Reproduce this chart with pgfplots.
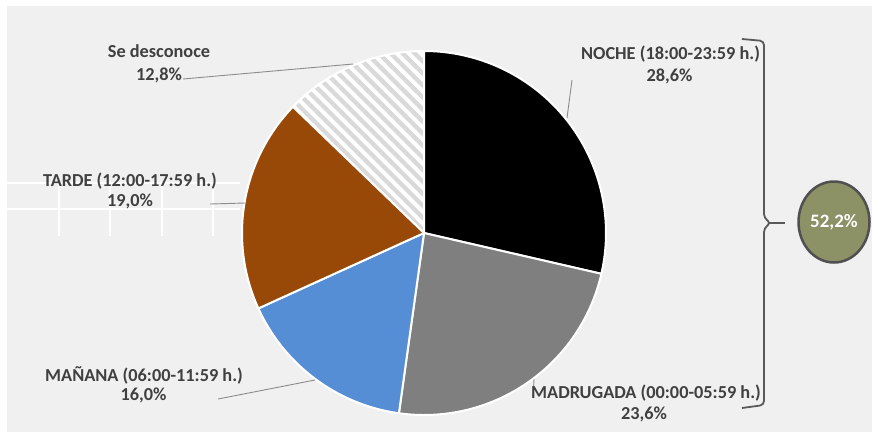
\documentclass[border=0pt]{standalone}
\usepackage{pgfplots}
\pgfplotsset{compat=1.18}
\usepackage{fontspec}
\setmainfont{Carlito}
\usetikzlibrary{patterns.meta}
\definecolor{bg}{HTML}{F0F0F0}
\definecolor{txt}{HTML}{404040}
\definecolor{cNoche}{HTML}{000000}
\definecolor{cMadr}{HTML}{7F7F7F}
\definecolor{cMan}{HTML}{558ED5}
\definecolor{cTarde}{HTML}{984807}
\definecolor{hatch}{HTML}{D9D9D9}
\definecolor{lead}{HTML}{8C8C8C}
\definecolor{brace}{HTML}{595959}
\definecolor{olive}{HTML}{8C9166}
\def\cx{424}\def\cy{233}\def\R{182}
% pie values (percent) and cumulative start (percent)
% NOCHE 28.6 | MADRUGADA 23.6 | MANANA 16.0 | TARDE 19.0 | Se desconoce 12.8
\begin{document}
\begin{tikzpicture}
\begin{axis}[scale only axis, width=872pt, height=432pt,
  xmin=0, xmax=872, ymin=0, ymax=432, y dir=reverse,
  hide axis, clip=false]
% background
\fill[white] (axis cs:0,0) rectangle (axis cs:872,432);
\fill[bg] (axis cs:7,6) rectangle (axis cs:872,432);
% stray grid artefacts on the left
\draw[white, line width=1.5pt] (axis cs:7,183) -- (axis cs:240,183);
\draw[white, line width=1.5pt] (axis cs:7,209) -- (axis cs:240,209);
\draw[white, line width=1.5pt] (axis cs:59,183) -- (axis cs:59,236);
\draw[white, line width=1.5pt] (axis cs:110,183) -- (axis cs:110,236);
\draw[white, line width=1.5pt] (axis cs:162,183) -- (axis cs:162,236);
\draw[white, line width=1.5pt] (axis cs:213,183) -- (axis cs:213,236);
% pie sectors
\addplot[fill=white, draw=none, domain={90-3.6*87.2}:{90-3.6*(87.2+12.8)}, samples=60,
  postaction={pattern={Lines[angle=-45,distance=8.5pt,line width=4.3pt]}, pattern color=hatch}]
  ({\cx+\R*cos(x)},{\cy-\R*sin(x)}) -- (axis cs:\cx,\cy) -- cycle;
\addplot[fill=none, draw=white, line width=2pt, line join=round, domain={90-3.6*87.2}:{90-3.6*(87.2+12.8)}, samples=60]
  ({\cx+\R*cos(x)},{\cy-\R*sin(x)}) -- (axis cs:\cx,\cy) -- cycle;
\addplot[fill=cNoche, draw=white, line width=2pt, line join=round, domain={90-3.6*0}:{90-3.6*28.6}, samples=100]
  ({\cx+\R*cos(x)},{\cy-\R*sin(x)}) -- (axis cs:\cx,\cy) -- cycle;
\addplot[fill=cMadr, draw=white, line width=2pt, line join=round, domain={90-3.6*28.6}:{90-3.6*(28.6+23.6)}, samples=100]
  ({\cx+\R*cos(x)},{\cy-\R*sin(x)}) -- (axis cs:\cx,\cy) -- cycle;
\addplot[fill=cMan, draw=white, line width=2pt, line join=round, domain={90-3.6*52.2}:{90-3.6*(52.2+16.0)}, samples=80]
  ({\cx+\R*cos(x)},{\cy-\R*sin(x)}) -- (axis cs:\cx,\cy) -- cycle;
\addplot[fill=cTarde, draw=white, line width=2pt, line join=round, domain={90-3.6*68.2}:{90-3.6*(68.2+19.0)}, samples=80]
  ({\cx+\R*cos(x)},{\cy-\R*sin(x)}) -- (axis cs:\cx,\cy) -- cycle;
% leader lines
\draw[lead, line width=0.9pt] (axis cs:183,79) -- (axis cs:353,64);
\draw[lead, line width=0.9pt] (axis cs:572,80) -- (axis cs:567,118);
\draw[lead, line width=0.9pt] (axis cs:210,204) -- (axis cs:245,203);
\draw[lead, line width=0.9pt] (axis cs:218,399) -- (axis cs:315,380);
\draw[lead, line width=0.9pt] (axis cs:534,379) -- (axis cs:533,398);
% labels
\tikzset{lab/.style={anchor=base, text=txt, inner sep=0pt, font=\fontsize{18.3}{22}\selectfont\bfseries}}
\node[lab] at (axis cs:159,57.3) {Se desconoce};
\node[lab] at (axis cs:159,80) {12,8\%};
\node[lab] at (axis cs:670.5,59.3) {NOCHE (18:00-23:59 h.)};
\node[lab] at (axis cs:669.5,81) {28,6\%};
\node[lab] at (axis cs:130,186) {TARDE (12:00-17:59 h.)};
\node[lab] at (axis cs:130,206.7) {19,0\%};
\node[lab] at (axis cs:144,381.7) {MAÑANA (06:00-11:59 h.)};
\node[lab] at (axis cs:143.5,400.7) {16,0\%};
\node[lab] at (axis cs:646,398.3) {MADRUGADA (00:00-05:59 h.)};
\node[lab] at (axis cs:644,419.3) {23,6\%};
% brace
\draw[brace, line width=1.8pt, rounded corners=4pt, line join=round]
  (axis cs:742,39) -- (axis cs:764,41) -- (axis cs:764,218) -- (axis cs:771,223)
  -- (axis cs:764,228) -- (axis cs:764,405) -- (axis cs:742,408);
\draw[brace, line width=1.8pt] (axis cs:769,223) -- (axis cs:785,223);
% total circle
\draw[fill=olive, draw=brace!90!black, line width=2.5pt] (axis cs:834,222) ellipse[x radius=35.5pt, y radius=40.5pt];
\node[anchor=center, text=white, font=\fontsize{19}{22}\selectfont\bfseries] at (axis cs:834,222) {52,2\%};
\end{axis}
\useasboundingbox (current axis.south west) rectangle (current axis.north east);
\end{tikzpicture}
\end{document}
